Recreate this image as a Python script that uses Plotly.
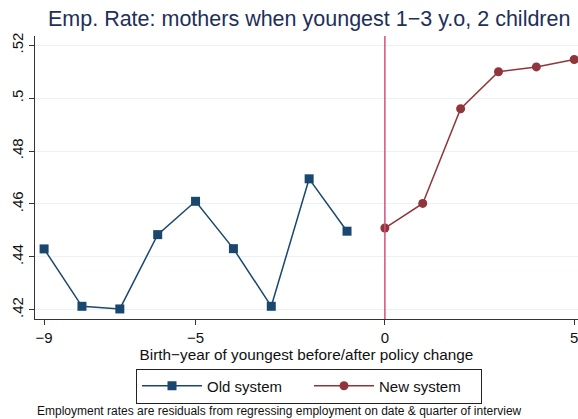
import plotly.graph_objects as go

old_x = [-9, -8, -7, -6, -5, -4, -3, -2, -1]
old_y = [0.443, 0.4213, 0.4203, 0.4484, 0.4610, 0.4431, 0.4213, 0.4695, 0.4497]
new_x = [0, 1, 2, 3, 4, 5]
new_y = [0.4509, 0.4602, 0.4960, 0.5100, 0.5118, 0.5146]

x_ticks = [-9, -5, 0, 5]
x_ticklabels = ["\u22129", "\u22125", "0", "5"]
y_ticks = [0.42, 0.44, 0.46, 0.48, 0.50, 0.52]
y_ticklabels = [".42", ".44", ".46", ".48", ".5", ".52"]

navy = "#1a476f"
maroon = "#90353b"
font = "Liberation Sans, Arial, sans-serif"

fig = go.Figure()
fig.add_trace(go.Scatter(
    x=old_x, y=old_y, mode="lines+markers", name="Old system",
    line=dict(color=navy, width=1.5),
    marker=dict(symbol="square", size=9, color=navy),
))
fig.add_trace(go.Scatter(
    x=new_x, y=new_y, mode="lines+markers", name="New system",
    line=dict(color=maroon, width=1.5),
    marker=dict(symbol="circle", size=9, color=maroon),
))
fig.add_vline(x=0, line=dict(color="#d6507a", width=1.5))

fig.update_layout(
    width=578, height=419,
    margin=dict(l=35, r=0, t=36, b=100),
    paper_bgcolor="white", plot_bgcolor="white",
    font=dict(family=font, size=15, color="#111111"),
    title=dict(
        text="Emp. Rate: mothers when youngest 1\u22123 y.o, 2 children",
        font=dict(family=font, size=21.5, color="#1e2f5a"),
        x=0.535, xanchor="center", y=0.957, yanchor="middle",
    ),
    showlegend=True,
    legend=dict(
        orientation="h", x=0.5046, xanchor="center", y=-0.175, yanchor="top",
        bordercolor="#222222", borderwidth=1, bgcolor="white",
        font=dict(family=font, size=15, color="#111111"),
        entrywidth=97, itemwidth=60, tracegroupgap=0,
    ),
    annotations=[dict(
        text="Employment rates are residuals from regressing employment on date & quarter of interview",
        xref="paper", yref="paper", x=0.451, y=-0.325,
        xanchor="center", yanchor="middle", showarrow=False,
        font=dict(family=font, size=12, color="#111111"),
    )],
)
fig.update_xaxes(
    range=[-9.24, 5.1], tickvals=x_ticks, ticktext=x_ticklabels,
    showgrid=False, zeroline=False, showline=True, linecolor="#333333", linewidth=1,
    ticks="outside", ticklen=5, tickcolor="#333333", ticklabeloverflow="allow",
    title=dict(text="Birth\u2212year of youngest before/after policy change",
               font=dict(family=font, size=15.3), standoff=4),
)
fig.update_yaxes(
    range=[0.4165, 0.5235], tickvals=y_ticks, ticktext=y_ticklabels,
    showgrid=True, gridcolor="#eaf2f3", gridwidth=1, zeroline=False,
    showline=True, linecolor="#333333", linewidth=1,
    ticks="outside", ticklen=5, tickcolor="#333333", tickangle=-90,
)

fig.write_html("out.html")
